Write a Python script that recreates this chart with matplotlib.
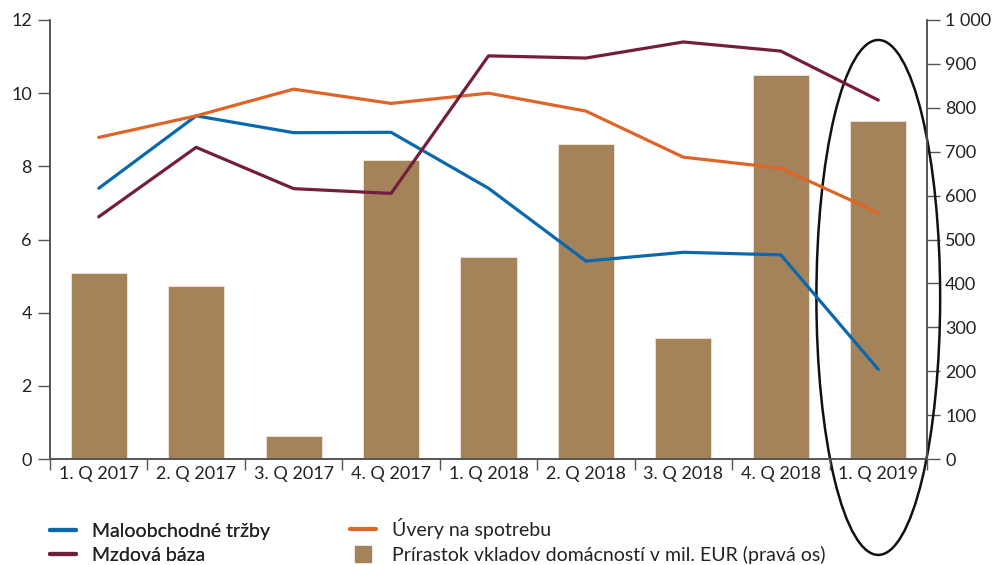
import matplotlib
matplotlib.use("Agg")
import matplotlib.pyplot as plt
from matplotlib.patches import Ellipse
from matplotlib.lines import Line2D
from matplotlib.ticker import FuncFormatter, FixedLocator, NullFormatter
import numpy as np

quarters = ["1. Q 2017", "2. Q 2017", "3. Q 2017", "4. Q 2017", "1. Q 2018",
            "2. Q 2018", "3. Q 2018", "4. Q 2018", "1. Q 2019"]
retail_sales = [7.40, 9.38, 8.92, 8.93, 7.40, 5.41, 5.65, 5.58, 2.45]
consumer_loans = [8.79, 9.38, 10.11, 9.72, 10.00, 9.51, 8.25, 7.95, 6.73]
wage_bill = [6.62, 8.52, 7.39, 7.26, 11.02, 10.96, 11.40, 11.15, 9.81]
deposit_growth = [424, 394, 53, 680, 459, 717, 276, 875, 770]

BLUE = "#0a69ad"
ORANGE = "#de6526"
MAROON = "#741e3e"
BROWN = "#a5835a"
SPINE = "#555555"
TEXT = "#222222"

plt.rcParams["font.family"] = ["Lato", "DejaVu Sans"]

fig = plt.figure(figsize=(9.97, 5.65), dpi=100)
ax = fig.add_axes([50 / 997, 106 / 565, 877 / 997, 439 / 565])
ax2 = ax.twinx()

x = np.arange(len(quarters))

# deposits on the right axis, drawn behind the lines
ax2.bar(x, deposit_growth, width=0.575, color=BROWN, edgecolor="#efe6d8",
        linewidth=0.6, zorder=1)
ax2.set_ylim(0, 1000)
ax2.set_yticks(np.arange(0, 1001, 100))
ax2.yaxis.set_major_formatter(FuncFormatter(lambda v, p: f"{int(v):,}".replace(",", " ")))

ax.set_zorder(ax2.get_zorder() + 1)
ax.patch.set_visible(False)

lw = 2.3
ax.plot(x, retail_sales, color=BLUE, lw=lw, solid_capstyle="round")
ax.plot(x, consumer_loans, color=ORANGE, lw=lw, solid_capstyle="round")
ax.plot(x, wage_bill, color=MAROON, lw=lw, solid_capstyle="round")

ax.set_xlim(-0.5, len(quarters) - 0.5)
ax.set_ylim(0, 12)
ax.set_yticks(np.arange(0, 13, 2))

# category labels centered, ticks on the boundaries
ax.xaxis.set_major_locator(FixedLocator(np.arange(-0.5, len(quarters), 1.0)))
ax.xaxis.set_major_formatter(NullFormatter())
ax.xaxis.set_minor_locator(FixedLocator(x))
ax.set_xticklabels(quarters, minor=True)
ax.tick_params(axis="x", which="minor", length=0, pad=5, labelsize=13, labelcolor=TEXT)
ax.tick_params(axis="x", which="major", length=8, width=1, color=SPINE, direction="out")
ax.tick_params(axis="y", length=9, width=1, color=SPINE, labelsize=13, labelcolor=TEXT, pad=4)
ax2.tick_params(axis="y", length=9, width=1, color=SPINE, labelsize=13, labelcolor=TEXT, pad=4)

for a in (ax, ax2):
    a.spines["top"].set_visible(False)
    for s in ("left", "right", "bottom"):
        a.spines[s].set_color(SPINE)
        a.spines[s].set_linewidth(1.2)

# highlight of the latest quarter
ell = Ellipse((8, 368), width=1.27, height=1173, transform=ax2.transData,
              fill=False, edgecolor="#111111", linewidth=1.8, clip_on=False, zorder=10)
ax2.add_patch(ell)

# legend in two columns
h_blue = Line2D([], [], color=BLUE, lw=3, solid_capstyle="round")
h_maroon = Line2D([], [], color=MAROON, lw=3, solid_capstyle="round")
h_orange = Line2D([], [], color=ORANGE, lw=3, solid_capstyle="round")
h_bar = Line2D([], [], color=BROWN, marker="s", ls="none", markersize=11.5)

leg_kw = dict(loc="upper left", frameon=False, fontsize=14, handlelength=1.35,
              handletextpad=0.8, borderpad=0, borderaxespad=0, labelcolor=TEXT)
leg1 = fig.legend([h_blue, h_maroon], ["Maloobchodné tržby", "Mzdová báza"],
                  bbox_to_anchor=(50 / 997, 1 - 523 / 565), labelspacing=0.37, **leg_kw)
fig.add_artist(leg1)
fig.legend([h_orange, h_bar],
           ["Úvery na spotrebu", "Prírastok vkladov domácností v mil. EUR (pravá os)"],
           bbox_to_anchor=(350 / 997, 1 - 518 / 565), labelspacing=0.37, **leg_kw)

fig.savefig("out.png", dpi=100)
